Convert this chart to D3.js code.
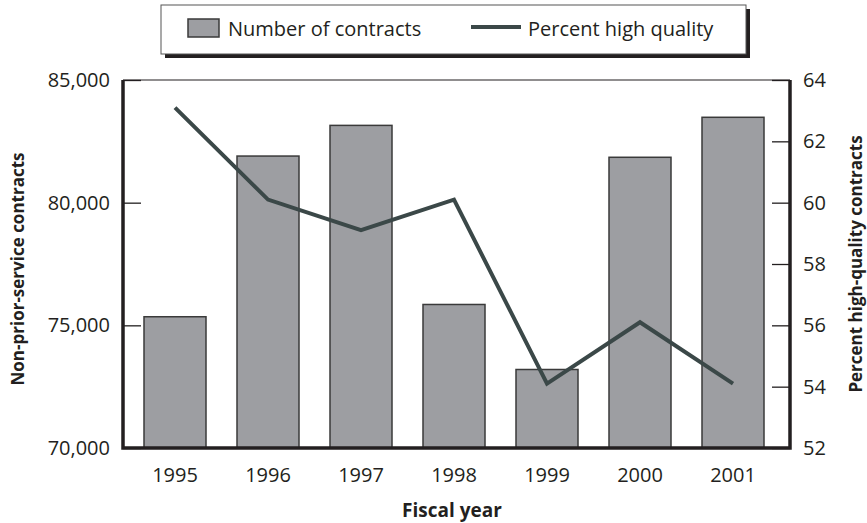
<!DOCTYPE html>
<html>
<head>
<meta charset="utf-8">
<script src="https://cdn.jsdelivr.net/npm/d3@7"></script>
<style>
  body { margin: 0; background: #fff; }
  text { font-family: "Open Sans", sans-serif; fill: #231f20; }
</style>
</head>
<body>
<div id="chart-area"></div>
<script>

// data
let years = ["1995", "1996", "1997", "1998", "1999", "2000", "2001"];
let contracts = [75350, 81900, 83150, 75850, 73200, 81850, 83480];
let pctHigh = [63.1, 60.1, 59.1, 60.1, 54.1, 56.1, 54.1];
let leftTicks = [70000, 75000, 80000, 85000];
let rightTicks = [52, 54, 56, 58, 60, 62, 64];

let width = 867,
    height = 523;

let plotLeft = 123, plotRight = 790, plotTop = 80, plotBottom = 448;

let svg = d3.select("#chart-area").append("svg")
    .attr("width", width)
    .attr("height", height);

let x = d3.scaleBand()
    .domain(years)
    .range([144, 764])
    .paddingInner(1/3)
    .paddingOuter(0);

let yLeft = d3.scaleLinear().domain([70000, 85000]).range([plotBottom, plotTop]);
let yRight = d3.scaleLinear().domain([52, 64]).range([plotBottom, plotTop]);

// bars
svg.selectAll(".bar")
  .data(contracts)
  .enter().append("rect")
  .attr("class", "bar")
  .attr("x", (d, i) => x(years[i]))
  .attr("y", d => yLeft(d))
  .attr("width", x.bandwidth())
  .attr("height", d => plotBottom - yLeft(d))
  .attr("fill", "#9d9ea2")
  .attr("stroke", "#3a3a3a")
  .attr("stroke-width", 1.5);

// line
let line = d3.line()
  .x((d, i) => x(years[i]) + x.bandwidth() / 2)
  .y(d => yRight(d));

svg.append("path")
  .datum(pctHigh)
  .attr("d", line)
  .attr("fill", "none")
  .attr("stroke", "#3b4848")
  .attr("stroke-width", 4);

// axes
let axL = svg.append("g")
  .attr("transform", "translate(" + plotLeft + ",0)")
  .call(d3.axisLeft(yLeft).tickValues(leftTicks).tickSize(-18).tickPadding(13)
    .tickFormat(d3.format(",")));

let axR = svg.append("g")
  .attr("transform", "translate(" + plotRight + ",0)")
  .call(d3.axisRight(yRight).tickValues(rightTicks).tickSize(-18).tickPadding(13));

let axB = svg.append("g")
  .attr("transform", "translate(0," + plotBottom + ")")
  .call(d3.axisBottom(x).tickSize(0).tickPadding(20));

[axL, axR, axB].forEach(function(g) {
  g.select(".domain").remove();
  g.selectAll("line").attr("stroke", "#231f20").attr("stroke-width", 1.3);
  g.selectAll("text").style("font-size", "20px").attr("fill", "#231f20")
    .style("font-family", "'Open Sans', sans-serif");
});

// frame
svg.append("line").attr("x1", plotLeft).attr("x2", plotRight).attr("y1", plotTop).attr("y2", plotTop)
  .attr("stroke", "#231f20").attr("stroke-width", 1.2);
svg.append("path")
  .attr("d", "M" + plotLeft + "," + plotTop + "V" + plotBottom + "H" + plotRight + "V" + plotTop)
  .attr("fill", "none")
  .attr("stroke", "#231f20")
  .attr("stroke-width", 3.5);

// axis titles
svg.append("text")
  .attr("transform", "translate(24,269) rotate(-90)")
  .attr("text-anchor", "middle")
  .style("font-size", "17px").style("font-weight", "bold")
  .text("Non-prior-service contracts");

svg.append("text")
  .attr("transform", "translate(862,264) rotate(-90)")
  .attr("text-anchor", "middle")
  .style("font-size", "17px").style("font-weight", "bold")
  .text("Percent high-quality contracts");

svg.append("text")
  .attr("x", 452).attr("y", 517)
  .attr("text-anchor", "middle")
  .style("font-size", "19px").style("font-weight", "bold")
  .text("Fiscal year");

// legend
let lg = svg.append("g");
lg.append("rect")
  .attr("x", 165).attr("y", 9).attr("width", 585).attr("height", 49)
  .attr("fill", "#231f20");
lg.append("rect")
  .attr("x", 161).attr("y", 5).attr("width", 585).attr("height", 49)
  .attr("fill", "#fff").attr("stroke", "#555").attr("stroke-width", 1);
lg.append("rect")
  .attr("x", 188).attr("y", 19).attr("width", 31).attr("height", 18)
  .attr("fill", "#9d9ea2").attr("stroke", "#3a3a3a").attr("stroke-width", 1.5);
lg.append("text").attr("x", 228).attr("y", 36)
  .style("font-size", "20px").text("Number of contracts");
lg.append("line")
  .attr("x1", 471).attr("x2", 521).attr("y1", 27).attr("y2", 27)
  .attr("stroke", "#3b4848").attr("stroke-width", 4);
lg.append("text").attr("x", 528).attr("y", 36)
  .style("font-size", "20px").text("Percent high quality");

</script>
</body>
</html>
